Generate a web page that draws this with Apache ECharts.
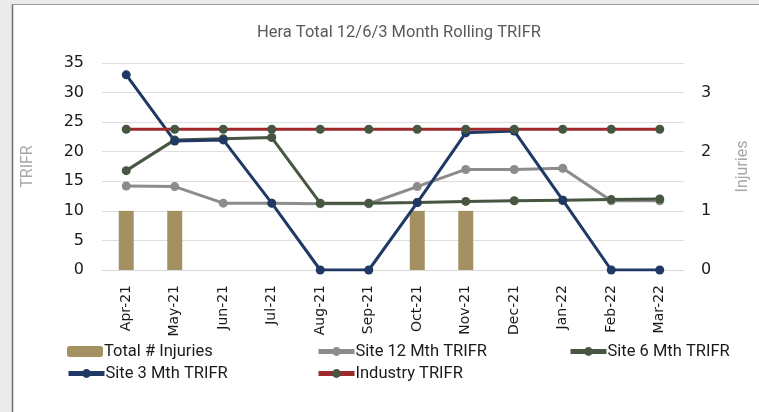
<!DOCTYPE html>
<html>
<head>
<meta charset="utf-8">
<script src="https://cdn.jsdelivr.net/npm/echarts@6/dist/echarts.min.js"></script>
<style>
    html, body {margin: 0; padding: 0; background: #ebebeb;}
    #chart {width: 759px; height: 412px;}
</style>
</head>
<body>
<div id="chart"></div>
<script>
// data
const months = ['Apr-21', 'May-21', 'Jun-21', 'Jul-21', 'Aug-21', 'Sep-21',
    'Oct-21', 'Nov-21', 'Dec-21', 'Jan-22', 'Feb-22', 'Mar-22'];
const injuries = [1, 1, 0, 0, 0, 0, 1, 1, 0, 0, 0, 0];
const site12 = [14.2, 14.1, 11.3, 11.3, 11.2, 11.2, 14.1, 17.0, 17.0, 17.2, 11.7, 11.7];
const site6 = [16.8, 22.0, 22.2, 22.4, 11.3, 11.3, 11.4, 11.6, 11.7, 11.8, 11.9, 12.0];
const site3 = [33.0, 21.8, 22.0, 11.3, 0, 0, 11.4, 23.2, 23.5, 11.8, 0, 0];
const industry = [23.8, 23.8, 23.8, 23.8, 23.8, 23.8, 23.8, 23.8, 23.8, 23.8, 23.8, 23.8];

const narrow = "'Liberation Sans Narrow', 'Roboto', sans-serif";
const axisFont = "'DejaVu Sans', sans-serif";

const colors = {
    bar: '#a39162',
    gray: '#8c8c8c',
    green: '#475641',
    blue: '#1f3864',
    red: '#9e2a2b'
};

let myChart = echarts.init(document.getElementById('chart'));

const lineSeries = (name, data, lineColor, dotColor) => ({
    name: name,
    type: 'line',
    data: data,
    symbol: 'circle',
    symbolSize: 9,
    lineStyle: {color: lineColor, width: 3},
    itemStyle: {color: dotColor},
    emphasis: {disabled: true}
});

const legendAt = (name, left, top) => ({
    data: [name],
    left: left,
    top: top,
    itemWidth: 36,
    itemHeight: 11,
    itemGap: 0,
    padding: 0,
    lineStyle: {width: 5},
    textStyle: {fontFamily: narrow, fontSize: 16.5, color: '#1a1a1a', padding: [0, 0, 0, -4]}
});

let option = {
    backgroundColor: '#ebebeb',
    animation: false,
    graphic: [
        {type: 'rect', shape: {x: 12, y: 4, width: 760, height: 420}, style: {fill: '#fff'}, z: -10},
        {type: 'line', shape: {x1: 12.5, y1: 4, x2: 12.5, y2: 412}, style: {stroke: '#6f6f6f', lineWidth: 1.5}, z: -9},
        {type: 'line', shape: {x1: 12, y1: 4.5, x2: 759, y2: 4.5}, style: {stroke: '#9a9a9a', lineWidth: 1}, z: -9}
    ],
    title: {
        text: 'Hera Total 12/6/3 Month Rolling TRIFR',
        left: 252,
        top: 19,
        textStyle: {fontFamily: narrow, fontSize: 16.5, fontWeight: 'normal', color: '#595959'}
    },
    legend: [
        legendAt('Total # Injuries', 67, 343),
        legendAt('Site 12 Mth TRIFR', 316, 343),
        legendAt('Site 6 Mth TRIFR', 568, 343),
        legendAt('Site 3 Mth TRIFR', 66, 365),
        legendAt('Industry TRIFR', 316, 365)
    ],
    grid: {left: 102, right: 63, top: 63, bottom: 142},
    xAxis: {
        type: 'category',
        data: months,
        axisLine: {lineStyle: {color: '#d9d9d9'}},
        axisTick: {length: 5, lineStyle: {color: '#d9d9d9'}},
        axisLabel: {rotate: 90, margin: 15, fontFamily: axisFont, fontSize: 14, color: '#1a1a1a', interval: 0}
    },
    yAxis: [
        {
            type: 'value',
            min: 0,
            max: 35,
            interval: 5,
            name: 'TRIFR',
            nameLocation: 'middle',
            nameGap: 66,
            nameTextStyle: {fontFamily: narrow, fontSize: 16, color: '#a6a6a6'},
            axisLabel: {fontFamily: axisFont, fontSize: 16, color: '#1a1a1a', margin: 18},
            splitLine: {lineStyle: {color: '#dedede'}}
        },
        {
            type: 'value',
            min: 0,
            max: 3.5,
            interval: 1,
            name: 'Injuries',
            nameLocation: 'middle',
            nameGap: 51,
            nameTextStyle: {fontFamily: narrow, fontSize: 16, color: '#a6a6a6'},
            axisLabel: {fontFamily: axisFont, fontSize: 16, color: '#1a1a1a', margin: 17, showMaxLabel: false},
            splitLine: {show: false}
        }
    ],
    series: [
        {
            name: 'Total # Injuries',
            type: 'bar',
            yAxisIndex: 1,
            data: injuries,
            barWidth: 15,
            itemStyle: {color: colors.bar},
            emphasis: {disabled: true}
        },
        lineSeries('Site 12 Mth TRIFR', site12, colors.gray, colors.gray),
        lineSeries('Site 6 Mth TRIFR', site6, colors.green, colors.green),
        lineSeries('Site 3 Mth TRIFR', site3, colors.blue, colors.blue),
        lineSeries('Industry TRIFR', industry, colors.red, colors.green)
    ]
};

myChart.setOption(option);
</script>
</body>
</html>
